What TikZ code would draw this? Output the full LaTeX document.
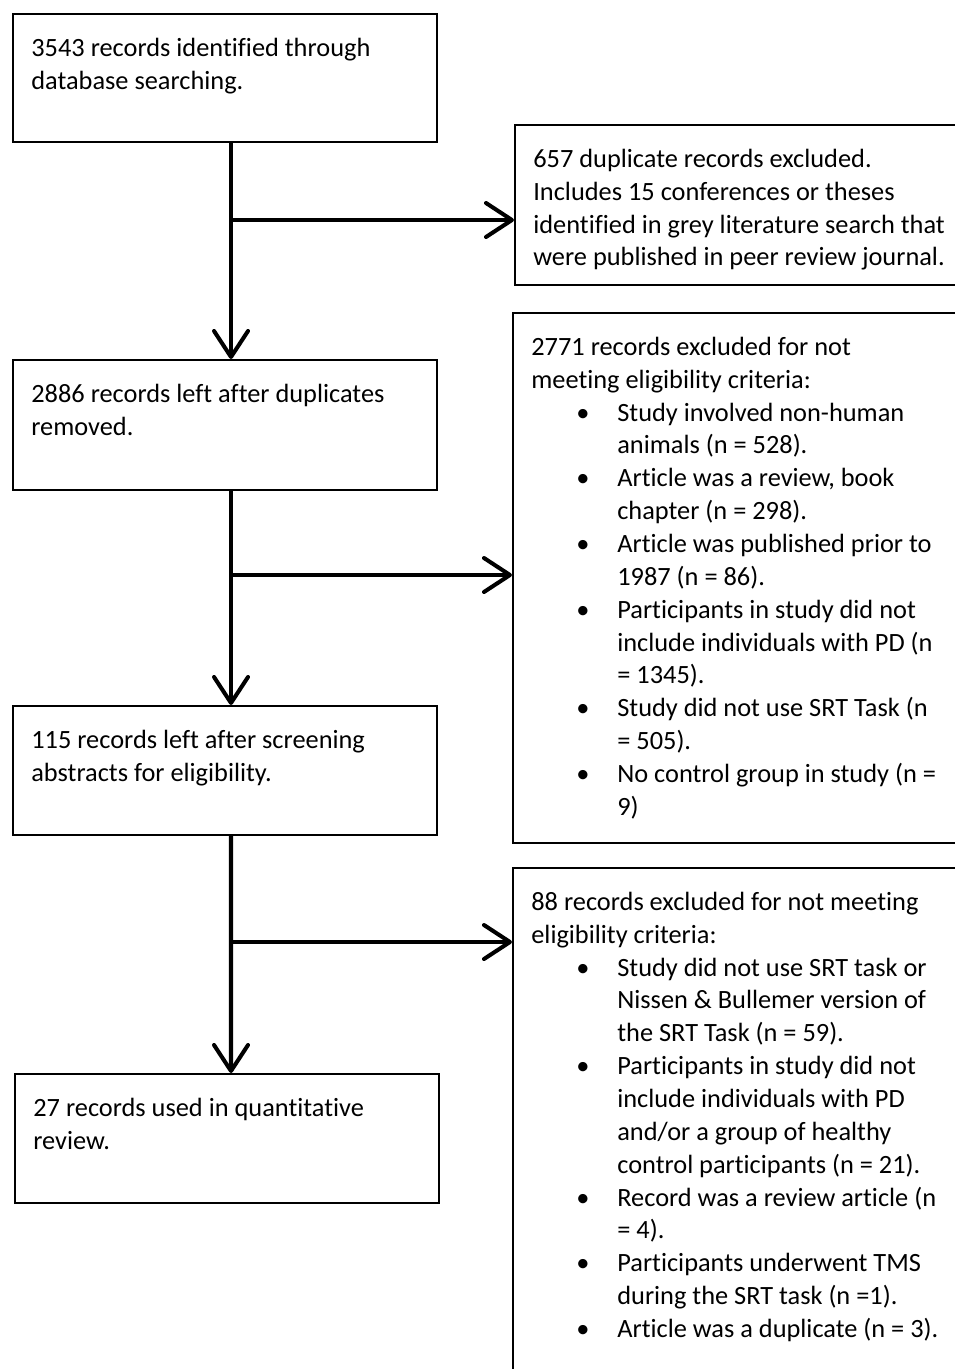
\documentclass[tikz,border=0pt]{standalone}
\usepackage{fontspec}
\setmainfont[Ligatures=CommonOff]{Carlito}
\usetikzlibrary{arrows.meta,positioning,calc}
\tikzset{box/.style={draw,line width=1.2pt,anchor=north west,inner sep=0pt},
  txt/.style={anchor=north west,inner sep=0pt,align=left,font=\fontsize{15}{18.7}\selectfont},
  arr/.style={-{Straight Barb[length=0.52cm,width=0.68cm,round]},line width=2.3pt}}
\newcommand{\lead}{\rule{0pt}{0.86cm}}
\newcommand{\itm}{\hspace*{0.9cm}\makebox[0.82cm][l]{\textbullet}}
\newcommand{\cnt}{\hspace*{1.72cm}}

\begin{document}
\begin{tikzpicture}[x=0.02cm,y=-0.02cm]
\useasboundingbox (0,0) rectangle (955,1369);
\clip (0,0) rectangle (955,1369);
% left column
\node[box,minimum width=8.48cm,minimum height=2.56cm] (ident) at (12,13) {};
\node[box,minimum width=8.48cm,minimum height=2.6cm] (dedup) at (12,359) {};
\node[box,minimum width=8.48cm,minimum height=2.58cm] (screen) at (12,705) {};
\node[box,minimum width=8.48cm,minimum height=2.58cm] (incl) at (14,1073) {};
% right column
\node[box,minimum width=9.2cm,minimum height=3.2cm] (dupl) at (514,124) {};
\node[box,minimum width=9.2cm,minimum height=10.6cm] (exclA) at (512,312) {};
\node[box,minimum width=9.2cm,minimum height=10.8cm] (exclB) at (512,867) {};
% texts
\node[txt] (identT) at ([xshift=0.38cm]ident.north west) {\lead 3543 records identified through\\ database searching.};
\node[txt] (dedupT) at ([xshift=0.38cm]dedup.north west) {\lead 2886 records left after duplicates\\ removed.};
\node[txt] (screenT) at ([xshift=0.38cm]screen.north west) {\lead 115 records left after screening\\ abstracts for eligibility.};
\node[txt] (inclT) at ([xshift=0.38cm]incl.north west) {\lead 27 records used in quantitative\\ review.};
\node[txt] (duplT) at ([xshift=0.38cm]dupl.north west) {\lead 657 duplicate records excluded.\\ Includes 15 conferences or theses\\ identified in grey literature search that\\ were published in peer review journal.};
\node[txt] (exclAT) at ([xshift=0.38cm]exclA.north west) {\lead 2771 records excluded for not\\ meeting eligibility criteria:\\
 \itm Study involved non-human\\ \cnt animals (n = 528).\\
 \itm Article was a review, book\\ \cnt chapter (n = 298).\\
 \itm Article was published prior to\\ \cnt 1987 (n = 86).\\
 \itm Participants in study did not\\ \cnt include individuals with PD (n\\ \cnt = 1345).\\
 \itm Study did not use SRT Task (n\\ \cnt = 505).\\
 \itm No control group in study (n =\\ \cnt 9)};
\node[txt] (exclBT) at ([xshift=0.38cm]exclB.north west) {\lead 88 records excluded for not meeting\\ eligibility criteria:\\
 \itm Study did not use SRT task or\\ \cnt Nissen \& Bullemer version of\\ \cnt the SRT Task (n = 59).\\
 \itm Participants in study did not\\ \cnt include individuals with PD\\ \cnt and/or a group of healthy\\ \cnt control participants (n = 21).\\
 \itm Record was a review article (n\\ \cnt = 4).\\
 \itm Participants underwent TMS\\ \cnt during the SRT task (n =1).\\
 \itm Article was a duplicate (n = 3).};
% connectors
\draw[arr] ([xshift=0.12cm]ident.south) -- ([xshift=0.12cm]dedup.north);
\draw[arr] ([xshift=0.12cm]dedup.south) -- ([xshift=0.12cm]screen.north);
\draw[arr] ([xshift=0.12cm]screen.south) -- ([xshift=0.08cm]incl.north);
\coordinate (j1) at (230,220);
\coordinate (j2) at (230,575);
\coordinate (j3) at (230,942);
\draw[arr] (j1) -- (j1 -| dupl.west);
\draw[arr] (j2) -- (j2 -| exclA.west);
\draw[arr] (j3) -- (j3 -| exclB.west);
\end{tikzpicture}
\end{document}
